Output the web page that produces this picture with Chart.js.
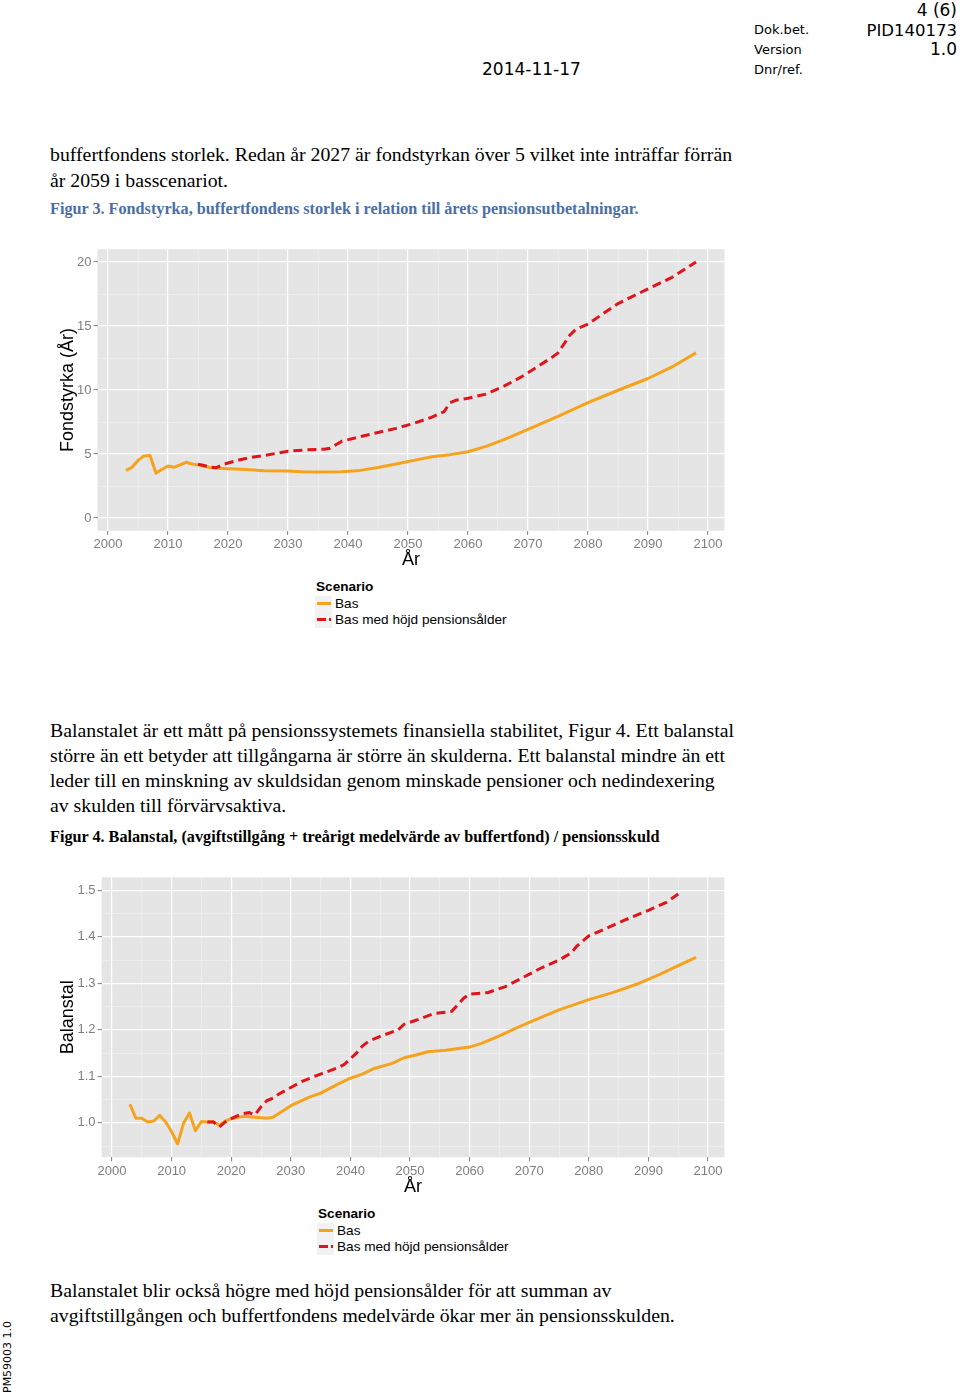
<!DOCTYPE html>
<html><head><meta charset="utf-8">
<script src="https://cdn.jsdelivr.net/npm/chart.js@4.4.1/dist/chart.umd.min.js"></script>
<style>
html,body{margin:0;padding:0;background:#fff;}
body{width:960px;height:1395px;position:relative;overflow:hidden;}
.t{position:absolute;white-space:nowrap;}
.hdr{font-family:'DejaVu Sans',Verdana,sans-serif;color:#000;}
.serif{font-family:'Liberation Serif','Times New Roman',serif;font-size:19.8px;line-height:25px;color:#000;}
.cap{font-family:'Liberation Serif','Times New Roman',serif;font-weight:bold;font-size:16.2px;line-height:18px;}
.lg{font-family:'Liberation Sans',Arial,sans-serif;font-size:13.6px;line-height:17px;color:#000;}
.key{position:absolute;background:#F2F2F2;width:17px;height:16px;}
.bar{position:absolute;height:3px;}
canvas{position:absolute;}
</style></head><body>

<div class="t hdr" style="right:3px;top:0px;font-size:17px;line-height:20px;">4 (6)</div>
<div class="t hdr" style="right:3px;top:21px;font-size:16.5px;line-height:20px;">PID140173</div>
<div class="t hdr" style="right:3px;top:39px;font-size:17px;line-height:20px;">1.0</div>
<div class="t hdr" style="left:754px;top:22px;font-size:13px;line-height:16px;">Dok.bet.</div>
<div class="t hdr" style="left:754px;top:42px;font-size:13px;line-height:16px;">Version</div>
<div class="t hdr" style="left:754px;top:62px;font-size:13px;line-height:16px;">Dnr/ref.</div>
<div class="t hdr" style="left:482px;top:59px;font-size:17px;line-height:20px;">2014-11-17</div>

<div class="t serif" style="left:50px;top:141px;line-height:26px;">buffertfondens storlek. Redan år 2027 är fondstyrkan över 5 vilket inte inträffar förrän<br>år 2059 i basscenariot.</div>
<div class="t cap" style="left:50px;top:200px;color:#4a6fa8;">Figur 3. Fondstyrka, buffertfondens storlek i relation till årets pensionsutbetalningar.</div>

<canvas id="c1" width="740" height="342" style="left:40px;top:230px;"></canvas>

<div class="t lg" style="left:316px;top:578px;font-weight:bold;">Scenario</div>
<div class="key" style="left:315px;top:596px;"></div>
<div class="bar" style="left:317px;top:602px;width:14px;background:#F5A31D;"></div>
<div class="t lg" style="left:335px;top:595px;">Bas</div>
<div class="key" style="left:315px;top:612px;"></div>
<div class="bar" style="left:317px;top:618px;width:9px;background:#E0141B;"></div>
<div class="bar" style="left:329px;top:618px;width:2px;background:#E0141B;"></div>
<div class="t lg" style="left:335px;top:611px;">Bas med höjd pensionsålder</div>

<div class="t serif" style="left:50px;top:718px;">Balanstalet är ett mått på pensionssystemets finansiella stabilitet, Figur 4. Ett balanstal<br>större än ett betyder att tillgångarna är större än skulderna. Ett balanstal mindre än ett<br>leder till en minskning av skuldsidan genom minskade pensioner och nedindexering<br>av skulden till förvärvsaktiva.</div>
<div class="t cap" style="left:50px;top:828px;color:#000;">Figur 4. Balanstal, (avgiftstillgång + treårigt medelvärde av buffertfond) / pensionsskuld</div>

<canvas id="c2" width="740" height="342" style="left:40px;top:860px;"></canvas>

<div class="t lg" style="left:318px;top:1205px;font-weight:bold;">Scenario</div>
<div class="key" style="left:317px;top:1223px;"></div>
<div class="bar" style="left:319px;top:1229px;width:14px;background:#F5A31D;"></div>
<div class="t lg" style="left:337px;top:1222px;">Bas</div>
<div class="key" style="left:317px;top:1239px;"></div>
<div class="bar" style="left:319px;top:1245px;width:9px;background:#E0141B;"></div>
<div class="bar" style="left:331px;top:1245px;width:2px;background:#E0141B;"></div>
<div class="t lg" style="left:337px;top:1238px;">Bas med höjd pensionsålder</div>

<div class="t serif" style="left:50px;top:1278px;">Balanstalet blir också högre med höjd pensionsålder för att summan av<br>avgiftstillgången och buffertfondens medelvärde ökar mer än pensionsskulden.</div>

<div class="t hdr" style="left:1px;top:1393px;font-size:11px;line-height:13px;transform:rotate(-90deg);transform-origin:0 0;">PM59003 1.0</div>

<script>
// ---- tick values ----
const xMajor = [2000, 2010, 2020, 2030, 2040, 2050, 2060, 2070, 2080, 2090, 2100];
const xMinor = [2005, 2015, 2025, 2035, 2045, 2055, 2065, 2075, 2085, 2095];
const y1Major = [0, 5, 10, 15, 20];
const y1Minor = [2.5, 7.5, 12.5, 17.5];
const y2Major = [1.0, 1.1, 1.2, 1.3, 1.4, 1.5];
const y2Minor = [0.95, 1.05, 1.15, 1.25, 1.35, 1.45];

// ---- Figur 3: Fondstyrka ----
const basYears1 = [2003,2004,2005,2006,2007,2008,2009,2010,2011,2012,2013,2014,2015,2016,2017,2018,2020,2023,2026,2030,2033,2036,2039,2042,2045,2048,2051,2054,2057,2060,2063,2066,2070,2075,2080,2085,2090,2094,2098];
const basValues1 = [3.72,3.96,4.5,4.85,4.88,3.5,3.8,4.06,3.96,4.15,4.35,4.22,4.15,4.05,3.95,3.9,3.85,3.78,3.7,3.68,3.6,3.6,3.62,3.72,3.95,4.22,4.5,4.78,4.95,5.18,5.6,6.12,6.93,7.94,9.02,9.98,10.9,11.8,12.9];
const hojdYears1 = [2015,2016,2017,2018,2019,2020,2022,2024,2026,2028,2030,2033,2036,2037,2039,2042,2045,2048,2051,2054,2055,2056,2057,2058,2060,2063,2066,2069,2072,2074,2075,2077,2078,2080,2082,2085,2090,2094,2098];
const hojdValues1 = [4.2,4.1,3.98,3.92,4.15,4.3,4.55,4.75,4.88,5.05,5.22,5.32,5.38,5.45,6.0,6.35,6.68,7.0,7.4,7.88,8.1,8.3,9.0,9.2,9.36,9.68,10.3,11.05,11.95,12.55,12.9,14.3,14.75,15.15,15.8,16.75,17.9,18.8,20.0];

// ---- Figur 4: Balanstal ----
const basYears2 = [2003,2004,2005,2006,2007,2008,2009,2010,2011,2012,2013,2014,2015,2016,2017,2018,2019,2020,2022,2024,2026,2027,2028,2030,2033,2035,2038,2040,2042,2044,2047,2049,2051,2053,2056,2060,2062,2065,2068,2070,2075,2080,2084,2088,2092,2095,2098];
const basValues2 = [1.040,1.010,1.010,1.002,1.004,1.016,1.002,0.981,0.955,0.999,1.021,0.983,1.003,1.002,1.003,0.995,1.004,1.009,1.014,1.012,1.010,1.012,1.020,1.037,1.055,1.064,1.084,1.096,1.105,1.117,1.128,1.140,1.146,1.153,1.156,1.163,1.171,1.187,1.205,1.216,1.243,1.265,1.280,1.298,1.320,1.338,1.356];
const hojdYears2 = [2016,2017,2018,2019,2020,2021,2022,2023,2024,2025,2026,2027,2028,2030,2032,2035,2038,2039,2041,2042,2043,2045,2048,2049,2052,2054,2056,2057,2059,2060,2063,2066,2069,2072,2075,2077,2078,2080,2082,2086,2090,2093,2095];
const hojdValues2 = [1.002,1.002,0.991,1.002,1.009,1.015,1.020,1.022,1.017,1.035,1.048,1.053,1.062,1.076,1.090,1.105,1.119,1.126,1.150,1.165,1.175,1.186,1.200,1.212,1.225,1.235,1.238,1.240,1.268,1.277,1.280,1.293,1.313,1.333,1.350,1.365,1.380,1.402,1.413,1.436,1.457,1.474,1.492];

const seriesNames = ['Bas', 'Bas med höjd pensionsålder'];
const ORANGE = '#F5A31D', RED = '#E0141B';

Chart.defaults.font.family = "'Liberation Sans', Arial, Helvetica, sans-serif";

function pts(xs, ys) { return xs.map((x, i) => ({ x: x, y: ys[i] })); }
function isIn(arr, v) { return arr.some(m => Math.abs(m - v) < 1e-6); }

const panelBg = {
  id: 'panelBg',
  beforeDraw(chart) {
    const { ctx, chartArea: a } = chart;
    ctx.save();
    ctx.fillStyle = '#E5E5E5';
    ctx.fillRect(a.left, a.top, a.right - a.left, a.bottom - a.top);
    ctx.restore();
  }
};

function gridOpts(minor) {
  return {
    color: c => isIn(minor, c.tick ? c.tick.value : NaN) ? '#F2F2F2' : '#FFFFFF',
    lineWidth: c => isIn(minor, c.tick ? c.tick.value : NaN) ? 0.6 : 1.2,
    tickColor: c => isIn(minor, c.tick ? c.tick.value : NaN) ? 'rgba(0,0,0,0)' : '#7F7F7F',
    tickWidth: 1,
    tickLength: 4,
    drawTicks: true
  };
}

function makeChart(id, o) {
  return new Chart(document.getElementById(id), {
    type: 'line',
    data: {
      datasets: [
        { label: seriesNames[1], data: pts(o.hx, o.hy), borderColor: RED, borderWidth: 3, borderDash: [9, 5], pointRadius: 0, tension: 0, fill: false, borderCapStyle: 'butt' },
        { label: seriesNames[0], data: pts(o.bx, o.by), borderColor: ORANGE, borderWidth: 3, pointRadius: 0, tension: 0, fill: false, borderJoinStyle: 'round' }
      ]
    },
    options: {
      responsive: false, animation: false, devicePixelRatio: 1,
      layout: { padding: o.padding },
      plugins: { legend: { display: false }, tooltip: { enabled: false } },
      scales: {
        x: {
          type: 'linear', min: 1998.25, max: 2102.75,
          afterBuildTicks: s => { s.ticks = [...xMajor, ...xMinor].sort((a, b) => a - b).map(v => ({ value: v })); },
          afterFit: s => { s.height = o.xHeight; },
          ticks: { autoSkip: false, maxRotation: 0, minRotation: 0, padding: 2, color: '#7F7F7F', font: { size: 13 },
                   callback: v => isIn(xMajor, v) ? String(v) : '' },
          grid: gridOpts(xMinor),
          border: { display: false },
          title: { display: true, text: 'År', color: '#000', font: { size: 18 }, padding: { top: 0, bottom: 0 } }
        },
        y: {
          type: 'linear', min: o.yMin, max: o.yMax,
          afterBuildTicks: s => { s.ticks = [...o.yMajor, ...o.yMinor].sort((a, b) => a - b).map(v => ({ value: v })); },
          afterFit: s => { s.width = o.yWidth; },
          ticks: { autoSkip: false, padding: 2, color: '#7F7F7F', font: { size: 13 },
                   callback: v => isIn(o.yMajor, v) ? o.fmt(v) : '' },
          grid: gridOpts(o.yMinor),
          border: { display: false },
          title: { display: true, text: o.yTitle, color: '#000', font: { size: 18 }, padding: { top: 17.2, bottom: 0 } }
        }
      }
    },
    plugins: [panelBg]
  });
}

makeChart('c1', {
  bx: basYears1, by: basValues1, hx: hojdYears1, hy: hojdValues1,
  yMin: -1, yMax: 21, yMajor: y1Major, yMinor: y1Minor, fmt: v => String(v),
  yTitle: 'Fondstyrka (År)', yWidth: 57.5, xHeight: 40,
  padding: { left: 0, right: 55.5, top: 19.2, bottom: 1.2 }
});

makeChart('c2', {
  bx: basYears2, by: basValues2, hx: hojdYears2, hy: hojdValues2,
  yMin: 0.926, yMax: 1.528, yMajor: y2Major, yMinor: y2Minor, fmt: v => v.toFixed(1),
  yTitle: 'Balanstal', yWidth: 61.6, xHeight: 40.5,
  padding: { left: 0, right: 55.6, top: 17.3, bottom: 4.2 }
});
</script>
</body></html>
